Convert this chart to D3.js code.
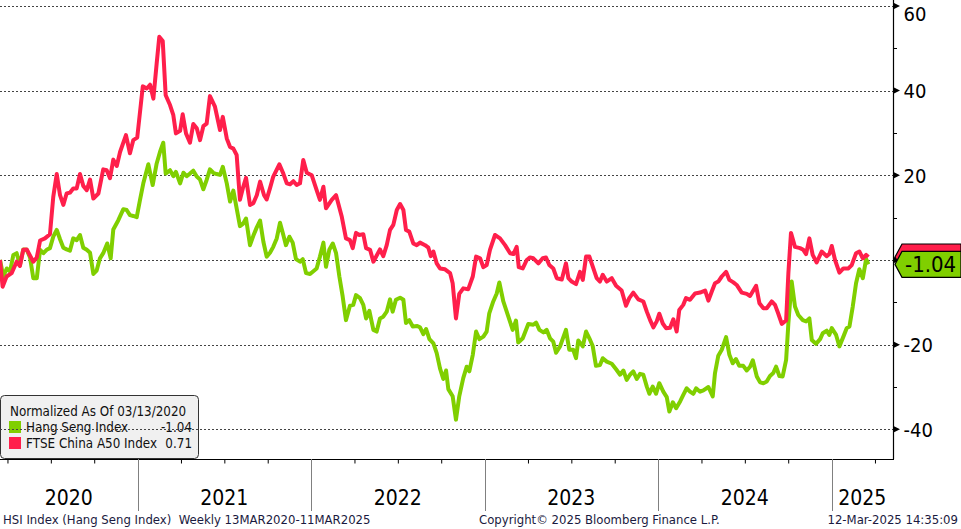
<!DOCTYPE html>
<html><head><meta charset="utf-8">
<script src="https://cdn.jsdelivr.net/npm/d3@7"></script>
<style>body{margin:0;background:#fff;} svg{display:block;}</style>
</head><body><svg id="c" width="961" height="529"></svg>
<script>
// ---- data (decimal years, % change normalized at 13 Mar 2020) ----
const hsiT = [2020.207,2020.226,2020.246,2020.265,2020.284,2020.303,2020.322,2020.341,2020.361,2020.380,2020.399,2020.419,2020.438,2020.457,2020.476,2020.495,2020.514,2020.534,2020.553,2020.572,2020.591,2020.610,2020.629,2020.649,2020.668,2020.687,2020.707,2020.726,2020.745,2020.764,2020.783,2020.802,2020.825,2020.845,2020.860,2020.889,2020.918,2020.937,2020.956,2020.975,2020.995,2021.014,2021.033,2021.062,2021.087,2021.110,2021.129,2021.148,2021.162,2021.187,2021.206,2021.221,2021.245,2021.264,2021.283,2021.302,2021.321,2021.341,2021.360,2021.379,2021.398,2021.417,2021.436,2021.456,2021.475,2021.491,2021.514,2021.533,2021.552,2021.571,2021.590,2021.609,2021.625,2021.648,2021.667,2021.687,2021.706,2021.725,2021.744,2021.763,2021.782,2021.802,2021.821,2021.840,2021.855,2021.875,2021.894,2021.913,2021.936,2021.952,2021.971,2021.994,2022.032,2022.051,2022.071,2022.086,2022.105,2022.125,2022.144,2022.163,2022.182,2022.201,2022.224,2022.243,2022.259,2022.282,2022.301,2022.317,2022.336,2022.359,2022.378,2022.397,2022.416,2022.436,2022.455,2022.470,2022.489,2022.513,2022.532,2022.547,2022.566,2022.586,2022.612,2022.628,2022.647,2022.663,2022.682,2022.705,2022.724,2022.743,2022.762,2022.778,2022.791,2022.816,2022.835,2022.854,2022.877,2022.897,2022.912,2022.932,2022.951,2022.970,2022.993,2023.012,2023.027,2023.050,2023.070,2023.085,2023.108,2023.137,2023.162,2023.181,2023.194,2023.220,2023.252,2023.281,2023.297,2023.316,2023.339,2023.358,2023.377,2023.396,2023.412,2023.435,2023.469,2023.488,2023.511,2023.527,2023.540,2023.566,2023.585,2023.604,2023.623,2023.642,2023.665,2023.681,2023.704,2023.733,2023.758,2023.781,2023.800,2023.819,2023.838,2023.857,2023.877,2023.896,2023.915,2023.935,2023.950,2023.969,2023.988,2024.007,2024.030,2024.050,2024.065,2024.085,2024.104,2024.127,2024.146,2024.165,2024.184,2024.203,2024.219,2024.242,2024.261,2024.290,2024.315,2024.328,2024.347,2024.367,2024.392,2024.411,2024.430,2024.449,2024.468,2024.491,2024.511,2024.530,2024.546,2024.569,2024.588,2024.607,2024.626,2024.645,2024.664,2024.680,2024.699,2024.718,2024.738,2024.751,2024.770,2024.789,2024.808,2024.834,2024.853,2024.872,2024.886,2024.910,2024.934,2024.949,2024.972,2024.987,2025.001,2025.026,2025.045,2025.068,2025.087,2025.103,2025.122,2025.141,2025.160,2025.180,2025.199,2025.212];
const hsiV = [0,-3.9,-2.0,-2.7,1.2,1.6,-1.2,2.5,2.4,0.6,-4.3,-4.3,2.4,1.6,2.4,2.8,5.5,7.1,4.9,2.9,2.5,2.2,5.1,4.7,5.9,2.9,2.4,1.7,-3.3,-2.5,0.4,1.6,3.9,0.4,7.2,9.4,12.0,11.8,10.6,10.4,10.1,14.2,18.1,22.6,17.7,22.8,25.5,27.7,20.4,21.2,19.8,20.8,18.1,20.6,19.8,20.4,21.1,19.7,19.0,16.7,18.9,21.4,20.6,20.3,20.1,22.0,18.1,13.8,16.4,12.2,8.0,8.6,9.8,3.5,5.7,7.7,9.3,4.3,0.8,1.7,3.1,5.1,8.8,5.9,3.5,5.5,4.1,0.2,-0.4,0.2,-3.1,-3.3,-2.0,0.8,4.1,-1.6,2.4,3.9,1.6,-3.9,-8.6,-14.2,-10.8,-10.6,-8.3,-9.0,-10.6,-13.8,-12.0,-16.5,-16.9,-13.8,-13.4,-12.2,-9.3,-12.2,-9.4,-8.9,-9.4,-14.9,-14.2,-15.7,-15.6,-15.9,-17.5,-16.3,-18.7,-19.7,-22.0,-25.6,-28.1,-26.1,-30.5,-32.2,-37.7,-32.2,-27.9,-25.2,-26.3,-22.4,-16.9,-18.7,-18.1,-16.9,-12.6,-9.8,-7.9,-5.3,-9.8,-13.4,-16.5,-14.3,-19.5,-18.5,-15.1,-15.3,-14.8,-16.5,-17.1,-16.5,-18.5,-19.3,-21.9,-20.4,-16.5,-21.2,-21.2,-23.2,-19.0,-20.4,-16.9,-18.5,-20.3,-25.0,-24.8,-23.2,-24.0,-24.5,-25.8,-27.1,-26.1,-28.3,-27.1,-26.3,-28.1,-26.9,-27.1,-29.9,-31.6,-29.9,-31.6,-29.1,-31.1,-32.4,-35.8,-33.6,-35.0,-33.4,-31.8,-30.3,-31.1,-31.6,-30.3,-31.1,-30.8,-30.0,-32.2,-26.7,-22.6,-21.2,-18.2,-22.4,-24.4,-23.4,-25.0,-25.0,-26.1,-25.2,-23.7,-27.5,-28.9,-29.1,-28.7,-27.4,-26.7,-25.2,-27.4,-27.5,-23.6,-14.9,-5.1,-11.0,-13.0,-14.2,-14.5,-13.8,-18.9,-19.8,-18.7,-17.3,-16.7,-17.7,-16.1,-17.7,-20.4,-18.1,-16.1,-15.7,-11.0,-5.5,-2.2,-4.3,0.2,-1.04];

const a50T = [2020.207,2020.222,2020.245,2020.274,2020.303,2020.322,2020.341,2020.361,2020.399,2020.419,2020.438,2020.466,2020.495,2020.514,2020.534,2020.553,2020.572,2020.591,2020.610,2020.629,2020.649,2020.668,2020.687,2020.707,2020.726,2020.745,2020.774,2020.802,2020.822,2020.841,2020.860,2020.880,2020.899,2020.933,2020.956,2020.975,2020.998,2021.030,2021.053,2021.072,2021.091,2021.110,2021.125,2021.145,2021.162,2021.187,2021.206,2021.221,2021.245,2021.260,2021.279,2021.302,2021.321,2021.341,2021.360,2021.379,2021.398,2021.417,2021.446,2021.475,2021.491,2021.514,2021.533,2021.552,2021.571,2021.590,2021.609,2021.625,2021.648,2021.667,2021.687,2021.706,2021.729,2021.744,2021.763,2021.782,2021.817,2021.840,2021.860,2021.879,2021.898,2021.917,2021.936,2021.955,2021.975,2022.004,2022.032,2022.051,2022.071,2022.086,2022.119,2022.144,2022.177,2022.201,2022.224,2022.240,2022.259,2022.278,2022.301,2022.317,2022.340,2022.359,2022.397,2022.416,2022.436,2022.455,2022.474,2022.494,2022.513,2022.532,2022.547,2022.566,2022.589,2022.609,2022.628,2022.657,2022.676,2022.690,2022.705,2022.724,2022.743,2022.772,2022.801,2022.816,2022.835,2022.854,2022.877,2022.906,2022.932,2022.951,2022.974,2022.993,2023.012,2023.031,2023.060,2023.089,2023.118,2023.147,2023.166,2023.185,2023.197,2023.220,2023.243,2023.262,2023.281,2023.310,2023.335,2023.354,2023.373,2023.396,2023.416,2023.445,2023.469,2023.483,2023.502,2023.527,2023.550,2023.566,2023.585,2023.604,2023.627,2023.646,2023.665,2023.681,2023.704,2023.733,2023.758,2023.790,2023.815,2023.834,2023.857,2023.886,2023.915,2023.935,2023.954,2023.973,2023.992,2024.007,2024.027,2024.046,2024.069,2024.088,2024.107,2024.122,2024.145,2024.161,2024.184,2024.213,2024.242,2024.271,2024.290,2024.309,2024.328,2024.347,2024.367,2024.392,2024.411,2024.434,2024.453,2024.482,2024.511,2024.530,2024.565,2024.584,2024.607,2024.626,2024.655,2024.674,2024.693,2024.713,2024.738,2024.751,2024.766,2024.789,2024.818,2024.837,2024.853,2024.872,2024.891,2024.914,2024.943,2024.972,2024.987,2025.001,2025.020,2025.045,2025.068,2025.097,2025.116,2025.141,2025.160,2025.180,2025.199,2025.212];
const a50V = [0,-6.3,-3.9,-3.1,-0.4,-1.4,2.4,2.5,-0.4,0.6,4.6,5.1,6.1,14.9,20.3,15.3,13.0,15.7,15.9,16.9,16.9,20.3,17.5,16.5,19.0,14.5,15.7,21.4,21.2,19.3,23.7,22.2,25.5,29.5,25.2,28.3,28.9,41.0,40.5,41.4,38.1,46.4,52.7,51.7,38.9,36.6,34.2,29.9,30.5,34.4,29.9,27.7,32.1,31.1,28.3,31.6,32.2,38.7,36.2,30.7,33.8,28.7,26.7,26.3,24.8,14.2,17.3,19.4,13.0,13.4,15.3,18.5,15.3,14.3,16.9,19.7,22.6,20.4,18.1,17.9,18.6,17.7,18.1,23.6,20.6,20.0,16.5,14.2,17.3,12.2,14.2,15.3,10.2,5.1,4.7,2.8,6.4,5.9,6.1,2.8,2.4,-0.4,2.5,0.9,3.5,7.1,8.3,11.8,13.2,11.8,7.1,6.7,3.9,3.5,4.1,3.5,2.9,0.9,2.0,-0.8,-2.0,-2.2,-3.1,-5.5,-13.8,-8.0,-6.7,-6.9,-3.9,0.8,0.4,-1.7,-1.2,2.4,5.9,5.1,3.5,1.6,1.4,3.1,-1.7,-2.0,0,0.6,0.4,-0.8,0.4,0.6,-1.2,-2.0,-4.3,-4.6,-0.8,-4.3,-5.1,-5.7,-2.8,-4.7,0.8,0.8,-2.0,-4.3,-5.1,-3.5,-5.1,-4.3,-6.1,-7.2,-10.8,-9.0,-7.7,-9.3,-9.8,-12.2,-14.2,-15.9,-14.5,-12.7,-15.0,-16.1,-16.0,-14.0,-16.9,-11.8,-10.6,-9.0,-9.4,-7.9,-7.7,-7.2,-9.6,-7.5,-5.5,-5.1,-3.9,-2.8,-4.7,-5.3,-5.9,-7.7,-8.0,-8.5,-6.1,-10.2,-11.4,-11.4,-9.8,-10.6,-12.7,-15.1,-14.3,-3.1,6.4,3.1,2.8,2.4,1.4,5.1,1.2,-0.6,2.0,0.9,1.4,3.3,0,-3.0,-2.0,-2.0,-1.2,1.6,2.0,0.4,1.2,0.71];

const yTicks = [60, 40, 20, 0, -20, -40];
const yTickLabels = [60, 40, 20, -20, -40]; // the 0 label is covered by the value tag
const yMinorTicks = [50, 30, 10, -10, -30];
const years = [2020, 2021, 2022, 2023, 2024, 2025];
const seriesNames = ["Hang Seng Index", "FTSE China A50 Index"];
const lastValues = [-1.04, 0.71];
const legendTitle = "Normalized As Of 03/13/2020";
const footerLeft = "HSI Index (Hang Seng Index)  Weekly 13MAR2020-11MAR2025";
const footerMid = "Copyright\u00A9 2025 Bloomberg Finance L.P.";
const footerRight = "12-Mar-2025 14:35:09";

// ---- drawing ----
const GREEN = "#80cf00", RED = "#ff1f4b";
const FONT = "'DejaVu Sans Condensed','DejaVu Sans',sans-serif";
const svg = d3.select("#c").style("font-family", FONT);
const plotR = 893, plotB = 459;
const x = d3.scaleLinear().domain([2020.207, 2020.207 + 893 / 173.5]).range([0, plotR]);
const y = d3.scaleLinear().domain([-47, 61.4]).range([plotB, 0]);

// legend (under gridlines, as in the reference)
const LFS = 13.3;
const lg = svg.append("g");
lg.append("rect").attr("x", 0.5).attr("y", 395.5).attr("width", 198).attr("height", 63)
  .attr("rx", 4).attr("fill", "#f0f0f0").attr("stroke", "#333");
lg.append("text").attr("x", 10).attr("y", 416).attr("font-size", LFS).attr("fill", "#111").text(legendTitle);
[GREEN, RED].forEach((c, i) => {
  const yy = 432 + i * 16;
  lg.append("rect").attr("x", 9).attr("y", yy - 11).attr("width", 12).attr("height", 12).attr("fill", c);
  lg.append("text").attr("x", 26).attr("y", yy).attr("font-size", LFS).attr("fill", "#111").text(seriesNames[i]);
  lg.append("text").attr("x", 192).attr("y", yy).attr("font-size", LFS).attr("fill", "#111")
    .attr("text-anchor", "end").text(lastValues[i].toFixed(2));
});

// gridlines
svg.append("g").selectAll("line").data(yTicks).join("line")
  .attr("x1", 0).attr("x2", plotR).attr("y1", d => Math.round(y(d)) + 0.5).attr("y2", d => Math.round(y(d)) + 0.5)
  .attr("stroke", "#444").attr("stroke-dasharray", "2,2");

// series
const line = d3.line().x(d => x(d[0])).y(d => y(d[1]));
const hsi = hsiT.map((t, i) => [t, hsiV[i]]);
const a50 = a50T.map((t, i) => [t, a50V[i]]);
svg.append("path").datum(hsi).attr("d", line).attr("fill", "none").attr("stroke", GREEN)
  .attr("stroke-width", 4).attr("stroke-linejoin", "round");
svg.append("path").datum(a50).attr("d", line).attr("fill", "none").attr("stroke", RED)
  .attr("stroke-width", 4).attr("stroke-linejoin", "round");

// right axis
const ya = svg.append("g").attr("transform", `translate(${plotR + 0.5},0)`)
  .call(d3.axisRight(y).tickValues(yTickLabels).tickSize(0).tickPadding(10).tickFormat(d => String(d)));
ya.select(".domain").remove();
ya.selectAll("text").attr("font-size", 20).attr("fill", "#000").attr("font-family", FONT)
  .attr("dy", d => d === 60 ? "0.72em" : "0.34em");
svg.append("line").attr("x1", plotR + 0.5).attr("x2", plotR + 0.5).attr("y1", 0).attr("y2", plotB)
  .attr("stroke", "#000").attr("stroke-width", 1.2);
svg.append("g").selectAll("path").data(yTicks).join("path")
  .attr("d", d => { const yy = y(d); return `M${plotR},${yy - 3.5}L${plotR + 7},${yy}L${plotR},${yy + 3.5}Z`; })
  .attr("fill", "#000");
svg.append("g").selectAll("line").data(yMinorTicks).join("line")
  .attr("x1", plotR).attr("x2", plotR + 4).attr("y1", d => Math.round(y(d)) + 0.5).attr("y2", d => Math.round(y(d)) + 0.5)
  .attr("stroke", "#000");

// bottom axis
const quarters = [];
years.forEach(yr => [0.25, 0.5, 0.75].forEach(q => { if (yr + q > x.domain()[0] && yr + q < x.domain()[1]) quarters.push(yr + q); }));
const xa = svg.append("g").attr("transform", `translate(0,${plotB + 0.5})`)
  .call(d3.axisBottom(x).tickValues(quarters).tickSize(4).tickFormat(""));
xa.select(".domain").attr("d", `M0,0H${plotR + 1}`).attr("stroke", "#000").attr("stroke-width", 1.2);
xa.selectAll(".tick line").attr("stroke", "#000");
const yearStarts = years.filter(yr => x(yr) > 0);
svg.append("g").selectAll("line").data(yearStarts).join("line")
  .attr("x1", d => Math.round(x(d)) + 0.5).attr("x2", d => Math.round(x(d)) + 0.5)
  .attr("y1", plotB).attr("y2", 511).attr("stroke", "#808080").attr("stroke-width", 1);
svg.append("g").selectAll("text").data(years).join("text")
  .attr("x", d => (Math.max(0, x(d)) + Math.min(plotR, x(d + 1))) / 2)
  .attr("y", 505).attr("text-anchor", "middle").attr("font-size", 21).attr("fill", "#000").text(d => d);

// value tags (A50 tag sits behind the HSI tag, only its top edge shows)
function tag(v, fill, txtFill, showText) {
  const yy = y(v);
  const g = svg.append("g");
  g.append("path").attr("d", `M${plotR + 2},${yy}L${plotR + 9},${yy - 13}H961V${yy + 13}H${plotR + 9}Z`)
    .attr("fill", fill).attr("stroke", "#000").attr("stroke-width", 1.2);
  if (showText) g.append("text").attr("x", 905).attr("y", yy + 8).attr("font-size", 22).attr("fill", txtFill).text(v.toFixed(2));
}
tag(lastValues[1], RED, "#fff", false);
tag(lastValues[0], GREEN, "#000", true);

// footer
const ff = { size: 13, fill: "#1a1a40" };
svg.append("text").attr("x", 3).attr("y", 524).attr("font-size", ff.size).attr("fill", ff.fill).attr("xml:space", "preserve").text(footerLeft);
svg.append("text").attr("x", 479).attr("y", 524).attr("font-size", ff.size).attr("fill", ff.fill).text(footerMid);
svg.append("text").attr("x", 958).attr("y", 524).attr("text-anchor", "end").attr("font-size", ff.size).attr("fill", ff.fill).text(footerRight);
</script></body></html>
